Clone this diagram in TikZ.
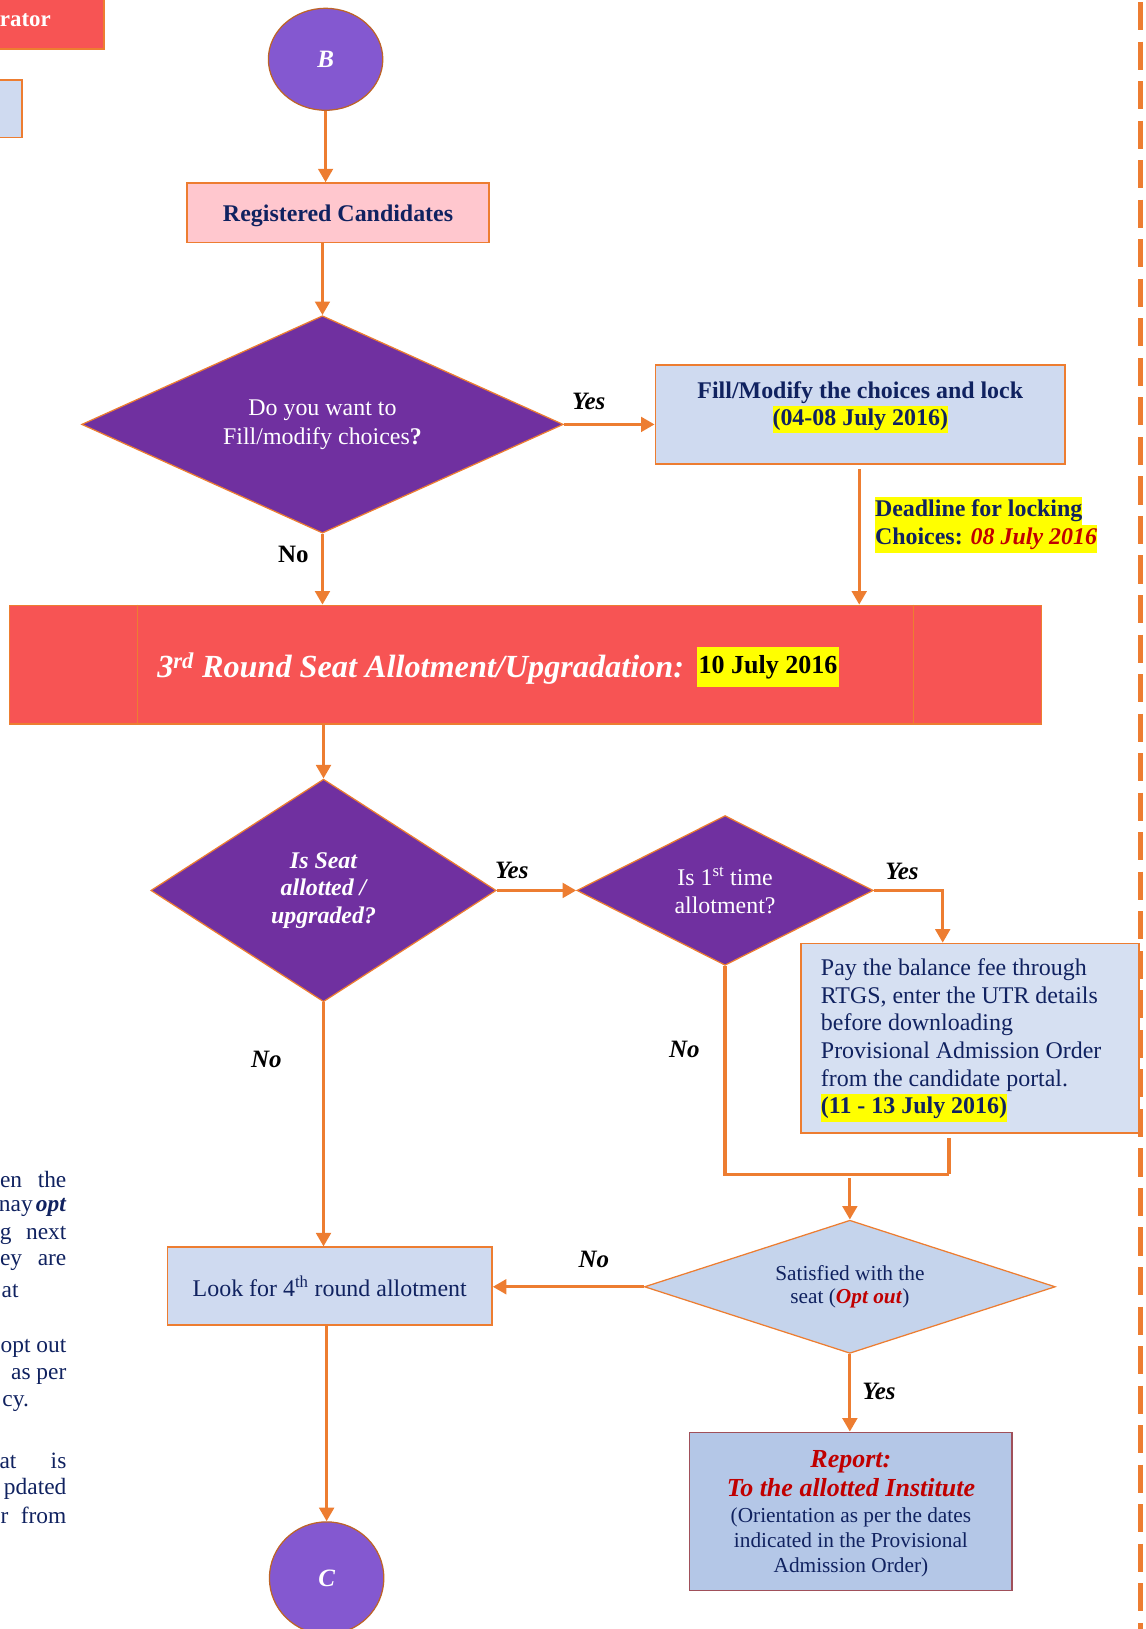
\documentclass[tikz,border=0pt]{standalone}
\usepackage{fontspec}
\setmainfont{Liberation Serif}
\usetikzlibrary{shapes.geometric,arrows.meta,calc}
\definecolor{orangeC}{RGB}{237,125,49}
\definecolor{purpleD}{RGB}{112,48,160}
\definecolor{purpleC}{RGB}{132,88,208}
\definecolor{lightblue}{RGB}{207,218,240}
\definecolor{satblue}{RGB}{197,212,236}
\definecolor{repblue}{RGB}{180,199,231}
\definecolor{repborder}{RGB}{160,80,90}
\definecolor{pinkC}{RGB}{255,199,206}
\definecolor{bandred}{RGB}{247,84,84}
\definecolor{navy}{RGB}{16,34,96}
\definecolor{darkred}{RGB}{192,0,0}
\definecolor{hly}{RGB}{255,255,0}
\newcommand\hlt[1]{{\setlength{\fboxsep}{0pt}\colorbox{hly}{\strut #1}}}
\begin{document}
\begin{tikzpicture}[x=1pt,y=-1pt,
  txt/.style={font=\fontsize{23}{26.6}\selectfont, text=navy, inner sep=0pt},
  arr/.style={draw=orangeC, line width=3pt, -{Triangle[length=13pt,width=14pt]}},
  conn/.style={draw=orangeC, line width=3pt},
  box/.style={draw=orangeC, line width=1.5pt, inner sep=0pt},
  dia/.style={diamond, draw=orangeC, line width=1.2pt, inner sep=0pt, align=center},
  circ/.style={ellipse, fill=purpleC, draw=orangeC!80!black, line width=1.2pt, inner sep=0pt,
     font=\fontsize{24}{28}\selectfont\bfseries\itshape, text=white},
  lab/.style={font=\fontsize{24}{28}\selectfont\bfseries\itshape, text=black, inner sep=0pt},
  ltxt/.style={font=\fontsize{22.5}{27}\selectfont, text=navy, inner sep=0pt, anchor=east}]
\useasboundingbox (0,0) rectangle (1101,1566);

% right dashed separator
\draw[orangeC, line width=5pt, dash pattern=on 27pt off 11pt] (1096,2) -- (1096,1570);

% partial elements at the top left
\node[box, fill=bandred, minimum width=105pt, minimum height=52pt] (adm) at (47.5,21) {};
\node[font=\fontsize{22}{26}\selectfont\bfseries, text=white, inner sep=0pt, anchor=east] (admtxt) at (49,19) {rator};
\node[box, fill=lightblue, minimum width=26pt, minimum height=55pt] (lbox) at (8,104.5) {};

% partial text at the left
\node[ltxt] (lt1) at (64,1134) {en\hspace{15pt}the};
\node[ltxt] (lt2) at (64,1161) {nay\hspace{3pt}\textbf{\textit{opt}}};
\node[ltxt] (lt3) at (64,1188) {g\hspace{14pt}next};
\node[ltxt] (lt4) at (64,1214) {ey\hspace{15pt}are};
\node[ltxt] (lt5) at (18,1241) {at};
\node[ltxt] (lt6) at (64,1296) {opt out};
\node[ltxt] (lt7) at (64,1323) {as per};
\node[ltxt] (lt8) at (28,1349) {cy.};
\node[ltxt] (lt9) at (64,1404) {at\hspace{33pt}is};
\node[ltxt] (lt10) at (64,1431) {pdated};
\node[ltxt] (lt11) at (64,1457) {r\hspace{12pt}from};

% main nodes
\node[circ, minimum width=110pt, minimum height=98pt] (B) at (313,57) {B};
\node[box, fill=pinkC, minimum width=290pt, minimum height=57pt, txt, font=\fontsize{23}{26.6}\selectfont\bfseries, text height=21pt, text depth=5pt] (reg) at (325,204.5) {Registered Candidates};
\node[dia, aspect=2.2, fill=purpleD, minimum width=463pt, minimum height=209pt, font=\fontsize{23}{28}\selectfont, text=white] (D1) at (310,408) {Do you want to\\Fill/modify choices\textbf{?}};
\node[box, fill=lightblue, minimum width=394pt, minimum height=95pt] (fill) at (827,398.5) {};
\node[txt, align=center, font=\fontsize{23}{26}\selectfont\bfseries] (filltxt) at (827,391.5) {Fill/Modify the choices and lock\\\hlt{(04-08 July 2016)}};
\node[txt, align=left, anchor=west, font=\fontsize{23}{27}\selectfont\bfseries] (dead) at (841,505) {\hlt{Deadline for locking}\\\hlt{Choices: \textit{\textcolor{darkred}{08 July 2016}}}};

\node[box, fill=bandred, minimum width=992pt, minimum height=114pt] (band) at (505,639) {};
\draw[orangeC, line width=0.8pt] (band.north west) ++(124,0) -- ++(0,114);
\draw[orangeC, line width=0.8pt] (band.north east) ++(-124,0) -- ++(0,114);
\node[font=\fontsize{31}{36}\selectfont\bfseries\itshape, text=white, inner sep=0pt, anchor=west] (bandtxt) at (151,643) {3\textsuperscript{rd} Round Seat Allotment/Upgradation:};
\node[fill=hly, font=\fontsize{25}{30}\selectfont\bfseries, text=black, inner xsep=1.5pt, inner ysep=0pt, minimum height=38pt, anchor=west] (date) at (670,641) {10 July 2016};

\node[dia, aspect=1.5, fill=purpleD, minimum width=332pt, minimum height=214pt, font=\fontsize{23}{26.5}\selectfont\bfseries\itshape, text=white] (D2) at (311,856) {Is Seat\\allotted /\\upgraded?};
\node[dia, aspect=2, fill=purpleD, minimum width=285pt, minimum height=144pt, font=\fontsize{23}{27}\selectfont, text=white] (D3) at (697,856) {Is 1\textsuperscript{st} time\\allotment?};
\node[box, fill=lightblue, fill opacity=0.85, text opacity=1, minimum width=325pt, minimum height=182pt] (pay) at (932.5,998) {};
\node[txt, align=left, anchor=west] (paytxt) at (789,1000) {Pay the balance fee through\\RTGS, enter the UTR details\\before downloading\\Provisional Admission Order\\from the candidate portal.\\\hlt{\textbf{(11 - 13 July 2016)}}};

\node[dia, aspect=3.1, fill=satblue, minimum width=395pt, minimum height=128pt, font=\fontsize{20.5}{23}\selectfont, text=navy] (D4) at (817,1237) {Satisfied with the\\seat (\textcolor{darkred}{\textbf{\textit{Opt out}}})};
\node[box, fill=lightblue, minimum width=312pt, minimum height=75pt, txt] (look) at (317,1236.5) {Look for 4\textsuperscript{th} round allotment};
\node[box, draw=repborder, fill=repblue, minimum width=310pt, minimum height=152pt] (rep) at (818,1453) {};
\node[inner sep=0pt, align=center, font=\fontsize{25}{28}\selectfont\bfseries\itshape, text=darkred] (reptitle) at (818,1417) {Report:\\To the allotted Institute};
\node[inner sep=0pt, align=center, font=\fontsize{20.5}{24}\selectfont, text=navy] (repsub) at (818,1483) {(Orientation as per the dates\\indicated in the Provisional\\Admission Order)};
\node[circ, minimum width=110pt, minimum height=108pt] (C) at (314,1517) {C};

% connector labels
\node[lab] (y1) at (566,386) {Yes};
\node[lab, font=\fontsize{24}{28}\selectfont\bfseries] (n1) at (282,533) {No};
\node[lab] (y2) at (492,837) {Yes};
\node[lab] (y3) at (867,838) {Yes};
\node[lab] (n2) at (658,1009) {No};
\node[lab] (n3) at (256,1018) {No};
\node[lab] (n4) at (571,1211) {No};
\node[lab] (y4) at (845,1338) {Yes};

% connectors
\draw[arr] (B.south) -- (B.south |- reg.north);
\draw[arr] (D1.north |- reg.south) -- (D1.north);
\draw[arr] (D1.east) -- (D1.east -| fill.west);
\coordinate (fb) at ($(fill.south)+(-1,4)$);
\draw[arr] (fb) -- (fb |- band.north);
\draw[arr] (D1.south) -- (D1.south |- band.north);
\draw[arr] (D2.north |- band.south) -- (D2.north);
\draw[arr] (D2.east) -- (D3.west);
\coordinate (pt) at ($(pay.north west)+(137,0)$);
\draw[arr] (D3.east) -| (pt);
\coordinate (pb) at ($(pay.south west)+(143,4)$);
\coordinate (jr) at ($(pay.south west)+(143,39)$);
\draw[conn] (D3.south) |- (jr);
\draw[conn] (pb) -- (jr);
\coordinate (j4) at ($(D4.north |- jr)+(0,4)$);
\draw[arr] (j4) -- (D4.north);
\draw[arr] (D4.west) -- (D4.west -| look.east);
\draw[arr] (D2.south) -- (D2.south |- look.north);
\draw[arr] (C.north |- look.south) -- (C.north);
\draw[arr] (D4.south) -- (D4.south |- rep.north);
\end{tikzpicture}
\end{document}
